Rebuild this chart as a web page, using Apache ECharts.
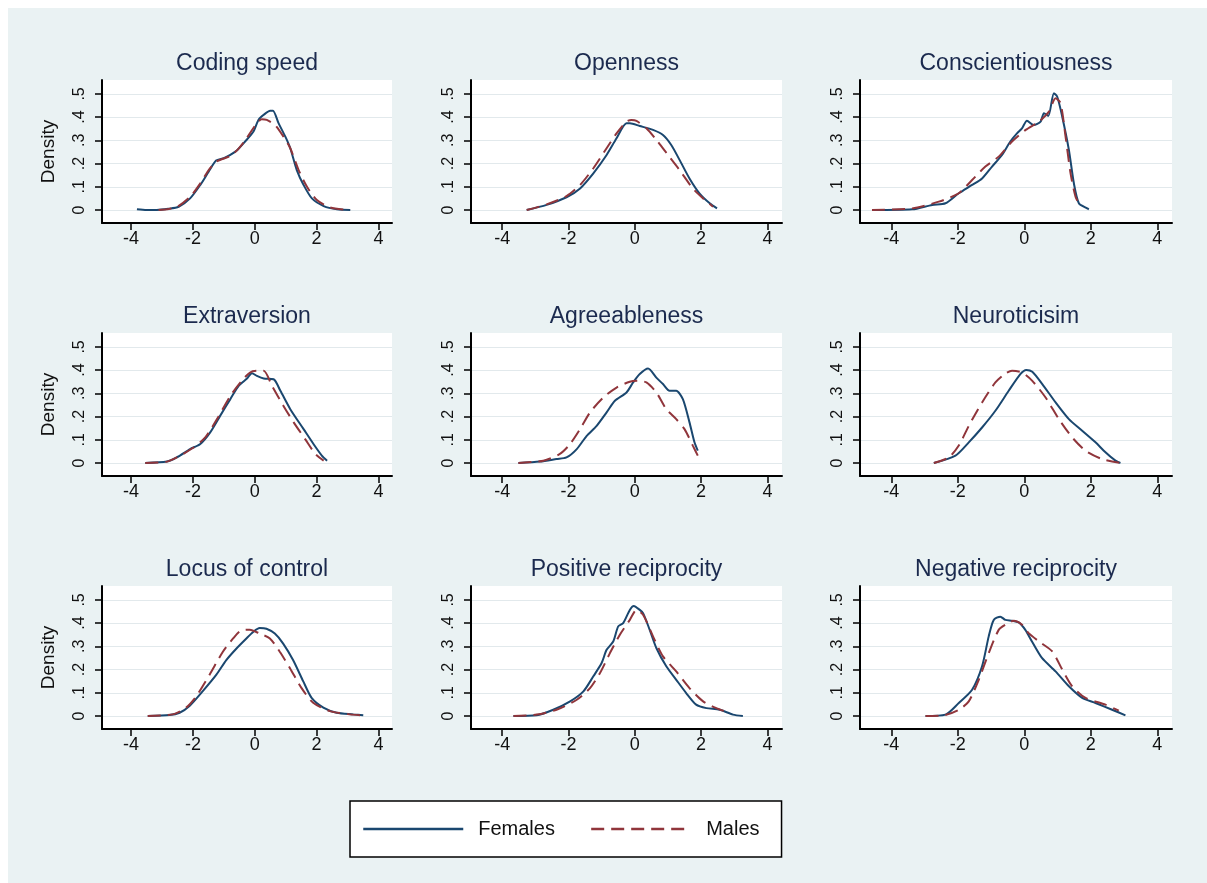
<!DOCTYPE html>
<html>
<head>
<meta charset="utf-8">
<script src="https://cdn.jsdelivr.net/npm/echarts/dist/echarts.min.js"></script>
<style>
html,body{margin:0;padding:0;background:#fff;}
#bg{position:absolute;left:8px;top:8px;width:1199px;height:875px;background:#eaf2f3;}
#main{position:absolute;left:0;top:0;width:1207px;height:883px;}
</style>
</head>
<body>
<div id="bg"></div>
<div id="main"></div>
<script>
// ---- data ----
const panelTitles = ['Coding speed','Openness','Conscientiousness','Extraversion','Agreeableness','Neuroticisim','Locus of control','Positive reciprocity','Negative reciprocity'];
const seriesNames = ['Females','Males'];
const xTicks = [-4,-2,0,2,4];
const yTicks = [0,0.1,0.2,0.3,0.4,0.5];
const yTickLabels = ['0','.1','.2','.3','.4','.5'];

const codingF = [[-3.81,0.003],[-3.5,0],[-3.17,0],[-2.8,0.005],[-2.46,0.014],[-2.09,0.05],[-1.76,0.108],[-1.49,0.165],[-1.25,0.213],[-1.0,0.223],[-0.79,0.237],[-0.58,0.256],[-0.31,0.295],[-0.04,0.338],[0.12,0.388],[0.29,0.41],[0.5,0.428],[0.59,0.428],[0.77,0.374],[0.99,0.316],[1.15,0.266],[1.36,0.172],[1.58,0.108],[1.85,0.05],[2.23,0.017],[2.66,0.003],[3.09,0]];
const codingM = [[-3.11,0],[-2.84,0.003],[-2.5,0.014],[-2.09,0.057],[-1.76,0.115],[-1.5,0.17],[-1.25,0.208],[-1.0,0.222],[-0.79,0.233],[-0.55,0.26],[-0.31,0.3],[0.07,0.374],[0.23,0.391],[0.39,0.388],[0.66,0.366],[0.93,0.316],[1.15,0.266],[1.42,0.172],[1.69,0.1],[2.01,0.043],[2.44,0.011],[3.09,0]];
const openF = [[-3.26,0],[-2.66,0.022],[-2.06,0.055],[-1.65,0.093],[-1.25,0.158],[-0.85,0.237],[-0.55,0.309],[-0.25,0.374],[-0.15,0.374],[0.15,0.362],[0.55,0.345],[0.85,0.323],[1.1,0.28],[1.35,0.216],[1.65,0.136],[1.95,0.072],[2.26,0.029],[2.48,0.007]];
const openM = [[-3.26,0],[-2.66,0.024],[-2.06,0.06],[-1.65,0.108],[-1.25,0.18],[-0.85,0.266],[-0.55,0.33],[-0.25,0.381],[-0.1,0.388],[0.05,0.384],[0.35,0.352],[0.65,0.302],[1.0,0.237],[1.35,0.172],[1.75,0.093],[2.06,0.05],[2.36,0.014]];
const consF = [[-4.58,0],[-3.37,0.003],[-2.77,0.022],[-2.37,0.029],[-1.97,0.072],[-1.57,0.108],[-1.27,0.136],[-0.97,0.187],[-0.67,0.237],[-0.42,0.295],[-0.22,0.33],[-0.07,0.352],[0.08,0.385],[0.28,0.366],[0.49,0.381],[0.59,0.417],[0.72,0.405],[0.89,0.503],[0.99,0.488],[1.14,0.402],[1.34,0.259],[1.49,0.115],[1.64,0.029],[1.89,0.007],[1.94,0.003]];
const consM = [[-4.58,0],[-3.37,0.007],[-2.57,0.036],[-1.97,0.072],[-1.57,0.129],[-1.17,0.187],[-0.77,0.23],[-0.37,0.295],[0.04,0.345],[0.44,0.381],[0.74,0.424],[0.94,0.481],[1.09,0.46],[1.24,0.316],[1.39,0.158],[1.54,0.057],[1.64,0.029]];
const extraF = [[-3.54,0],[-2.84,0.006],[-2.52,0.024],[-2.09,0.06],[-1.76,0.082],[-1.44,0.132],[-1.12,0.203],[-0.79,0.275],[-0.52,0.332],[-0.25,0.364],[-0.09,0.387],[0.07,0.375],[0.29,0.364],[0.61,0.361],[0.83,0.311],[1.15,0.232],[1.58,0.146],[1.9,0.082],[2.17,0.032],[2.34,0.01]];
const extraM = [[-3.54,0],[-2.84,0.006],[-2.41,0.032],[-1.98,0.067],[-1.6,0.11],[-1.22,0.189],[-0.79,0.289],[-0.42,0.354],[-0.15,0.39],[0.07,0.397],[0.29,0.397],[0.56,0.332],[0.93,0.246],[1.26,0.175],[1.63,0.103],[1.96,0.039],[2.23,0.01]];
const agreeF = [[-3.51,0],[-2.86,0.006],[-2.36,0.017],[-2.06,0.024],[-1.75,0.06],[-1.45,0.117],[-1.15,0.16],[-0.85,0.218],[-0.6,0.268],[-0.25,0.304],[-0.05,0.347],[0.15,0.383],[0.4,0.407],[0.65,0.368],[0.85,0.34],[1.05,0.311],[1.25,0.311],[1.45,0.275],[1.65,0.175],[1.8,0.089],[1.9,0.053]];
const agreeM = [[-3.51,0],[-2.76,0.01],[-2.26,0.039],[-1.95,0.082],[-1.65,0.146],[-1.35,0.218],[-0.95,0.282],[-0.55,0.325],[-0.15,0.35],[0.1,0.354],[0.35,0.347],[0.65,0.304],[0.95,0.232],[1.25,0.189],[1.5,0.146],[1.75,0.075],[1.9,0.032]];
const neuroF = [[-2.72,0],[-2.07,0.032],[-1.67,0.089],[-1.27,0.153],[-0.87,0.225],[-0.47,0.311],[-0.12,0.383],[0.06,0.401],[0.24,0.393],[0.54,0.34],[0.94,0.261],[1.34,0.189],[1.74,0.139],[2.14,0.089],[2.44,0.046],[2.74,0.01],[2.89,0]];
const neuroM = [[-2.72,0],[-2.27,0.024],[-1.97,0.075],[-1.67,0.16],[-1.27,0.261],[-0.87,0.347],[-0.57,0.385],[-0.37,0.397],[-0.07,0.39],[0.24,0.354],[0.64,0.282],[1.04,0.189],[1.44,0.11],[1.84,0.053],[2.34,0.017],[2.89,0]];
const locusF = [[-3.46,0],[-2.76,0.004],[-2.43,0.014],[-2.11,0.043],[-1.68,0.107],[-1.24,0.178],[-0.92,0.241],[-0.59,0.291],[-0.27,0.334],[-0.05,0.362],[0.16,0.379],[0.38,0.376],[0.65,0.355],[0.92,0.312],[1.24,0.241],[1.57,0.149],[1.84,0.078],[2.22,0.036],[2.65,0.014],[3.19,0.007],[3.51,0.003]];
const locusM = [[-3.46,0],[-2.65,0.007],[-2.22,0.036],[-1.89,0.085],[-1.46,0.178],[-1.03,0.277],[-0.7,0.334],[-0.43,0.369],[-0.16,0.372],[0.16,0.355],[0.49,0.334],[0.81,0.277],[1.14,0.206],[1.51,0.121],[1.89,0.057],[2.43,0.021],[3.08,0.007],[3.51,0.003]];
const posF = [[-3.66,0],[-2.96,0.003],[-2.46,0.027],[-1.95,0.063],[-1.55,0.106],[-1.25,0.171],[-1.0,0.228],[-0.85,0.285],[-0.65,0.321],[-0.5,0.386],[-0.35,0.4],[-0.15,0.457],[-0.03,0.474],[0.15,0.457],[0.25,0.443],[0.45,0.371],[0.65,0.293],[0.95,0.214],[1.25,0.156],[1.55,0.099],[1.85,0.049],[2.16,0.034],[2.56,0.027],[2.96,0.006],[3.26,0]];
const posM = [[-3.66,0],[-2.96,0.006],[-2.36,0.027],[-1.75,0.07],[-1.35,0.12],[-1.05,0.185],[-0.75,0.271],[-0.45,0.35],[-0.15,0.414],[0.05,0.457],[0.25,0.436],[0.55,0.343],[0.85,0.257],[1.25,0.192],[1.65,0.12],[2.06,0.063],[2.46,0.034],[2.86,0.013]];
const negF = [[-2.97,0],[-2.37,0.006],[-1.97,0.056],[-1.57,0.113],[-1.27,0.214],[-1.07,0.343],[-0.92,0.414],[-0.72,0.428],[-0.57,0.414],[-0.37,0.41],[-0.17,0.403],[0.03,0.371],[0.23,0.321],[0.53,0.25],[0.94,0.192],[1.34,0.128],[1.74,0.078],[2.14,0.056],[2.64,0.027],[3.04,0.003]];
const negM = [[-2.97,0],[-2.42,0.003],[-1.97,0.027],[-1.67,0.063],[-1.37,0.156],[-1.07,0.271],[-0.77,0.371],[-0.57,0.393],[-0.32,0.41],[-0.07,0.393],[0.13,0.357],[0.44,0.321],[0.84,0.278],[1.14,0.2],[1.44,0.128],[1.84,0.078],[2.44,0.049],[2.84,0.023]];

const femalesData = [codingF, openF, consF, extraF, agreeF, neuroF, locusF, posF, negF];
const malesData = [codingM, openM, consM, extraM, agreeM, neuroM, locusM, posM, negM];

// ---- layout / style ----
const FONT = '"Liberation Sans", Arial, Helvetica, sans-serif';
const colLeft = [102, 471, 860];
const colWidth = [290, 311, 312];
const rowTop = [80, 333, 586];
const plotH = 143;
const FEM = '#1a476f', MAL = '#90353b';

const chart = echarts.init(document.getElementById('main'), null, {renderer: 'canvas'});

const titles = [], grids = [], xAxes = [], yAxes = [], series = [];
for (let i = 0; i < 9; i++) {
  const r = Math.floor(i / 3), c = i % 3;
  titles.push({
    text: panelTitles[i],
    left: colLeft[c] + colWidth[c] / 2,
    top: rowTop[r] - 28,
    textAlign: 'center',
    padding: 0,
    textStyle: {fontSize: 23, fontWeight: 'normal', color: '#1b2a4e', fontFamily: FONT}
  });
  grids.push({
    left: colLeft[c], top: rowTop[r], width: colWidth[c], height: plotH,
    show: true, backgroundColor: '#ffffff', borderWidth: 0, containLabel: false, outerBoundsMode: 'none'
  });
  xAxes.push({
    type: 'value', gridIndex: i, min: -4.94, max: 4.44,
    axisLine: {show: true, onZero: false, lineStyle: {color: '#000', width: 2}},
    axisTick: {show: true, length: 7, customValues: xTicks, lineStyle: {color: '#000', width: 1.5}},
    axisLabel: {show: true, customValues: xTicks, margin: 7, fontSize: 18, color: '#111', fontFamily: FONT},
    splitLine: {show: false}
  });
  yAxes.push({
    type: 'value', gridIndex: i, min: -0.056, max: 0.56,
    name: c === 0 ? 'Density' : '', nameLocation: 'middle', nameGap: 44, nameRotate: 90,
    nameTextStyle: {fontSize: 19, color: '#111', fontFamily: FONT},
    axisLine: {show: true, onZero: false, lineStyle: {color: '#000', width: 2}},
    axisTick: {show: true, length: 7, customValues: yTicks, lineStyle: {color: '#000', width: 1.5}},
    axisLabel: {show: true, customValues: yTicks, rotate: 90, margin: 14, fontSize: 16, color: '#111', fontFamily: FONT,
      formatter: v => { const k = yTicks.findIndex(t => Math.abs(t - v) < 1e-6); return k >= 0 ? yTickLabels[k] : ''; }},
    splitLine: {show: true, lineStyle: {color: '#e2e9ec', width: 1}}
  });
  series.push({
    name: seriesNames[0], type: 'line', xAxisIndex: i, yAxisIndex: i, data: femalesData[i],
    symbol: 'none', showSymbol: false, smooth: 0.25, z: 3,
    lineStyle: {color: FEM, width: 2}, itemStyle: {color: FEM}
  });
  series.push({
    name: seriesNames[1], type: 'line', xAxisIndex: i, yAxisIndex: i, data: malesData[i],
    symbol: 'none', showSymbol: false, smooth: 0.25, z: 4,
    lineStyle: {color: MAL, width: 2, type: [13, 7]}, itemStyle: {color: MAL}
  });
}

chart.setOption({
  animation: false,
  backgroundColor: 'transparent',
  title: titles,
  legend: {
    data: seriesNames, left: 350, top: 801, orient: 'horizontal',
    padding: [18, 22, 18, 12], itemWidth: 100, itemHeight: 20, itemGap: 35,
    backgroundColor: '#fff', borderColor: '#000', borderWidth: 1.5, borderRadius: 0,
    selectedMode: false,
    itemStyle: {opacity: 0, borderWidth: 0},
    lineStyle: {width: 2.5},
    textStyle: {fontSize: 20, color: '#111', fontFamily: FONT, padding: [0, 0, 0, 10]}
  },
  grid: grids, xAxis: xAxes, yAxis: yAxes, series: series
});
</script>
</body>
</html>
